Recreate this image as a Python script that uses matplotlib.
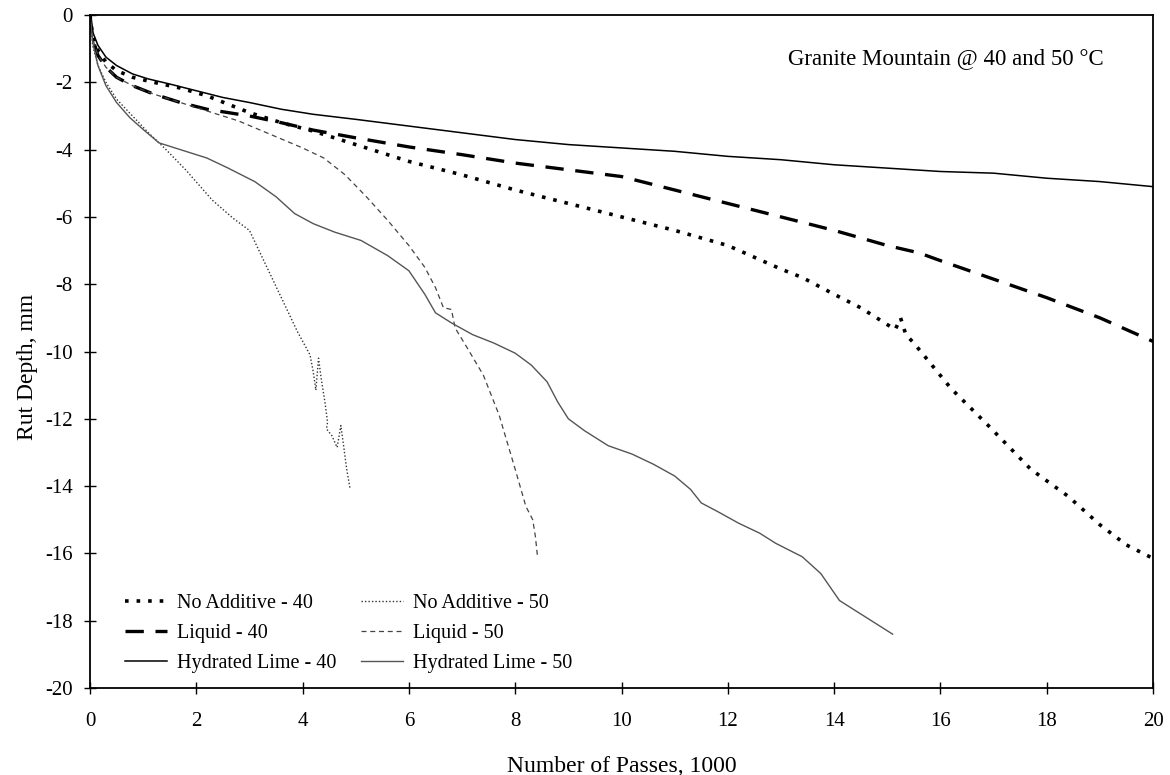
import matplotlib.pyplot as plt

plt.rcParams.update({
    "font.family": "serif",
    "font.serif": ["Liberation Serif", "DejaVu Serif"],
    "font.size": 15,
    "axes.unicode_minus": False,
})

# No Additive - 40
na40_x = [0, 0.05, 0.15, 0.3, 0.5, 0.8, 1.2, 1.7, 2.2, 3.0, 3.6, 4.2, 5, 6, 7, 8, 9, 10, 11, 12, 13,
          13.4, 14, 14.5, 15.0, 15.15, 15.25, 15.35, 15.5, 16.2, 16.9, 17.7, 18.4, 19, 19.5, 20]
na40_y = [0, -0.6, -1.05, -1.4, -1.65, -1.85, -2.0, -2.17, -2.4, -2.9, -3.2, -3.45, -3.85, -4.35, -4.75,
          -5.2, -5.6, -6.0, -6.4, -6.85, -7.55, -7.8, -8.3, -8.7, -9.2, -9.35, -9.0, -9.5, -9.75, -11.1,
          -12.2, -13.5, -14.3, -15.15, -15.75, -16.15]

# Liquid - 40
lq40_x = [0, 0.05, 0.15, 0.3, 0.5, 0.8, 1.2, 1.7, 2.2, 3, 3.6, 4.2, 5, 6, 7, 8, 9, 10, 11, 12, 13, 14,
          15, 15.6, 16, 17, 18, 19, 20]
lq40_y = [0, -0.7, -1.2, -1.55, -1.85, -2.1, -2.35, -2.6, -2.8, -3.0, -3.2, -3.42, -3.65, -3.92, -4.15,
          -4.4, -4.6, -4.8, -5.2, -5.6, -6.0, -6.4, -6.85, -7.07, -7.3, -7.85, -8.4, -9.0, -9.7]

# Hydrated Lime - 40
hl40_x = [0, 0.05, 0.15, 0.3, 0.5, 0.8, 1.1, 1.5, 2, 2.5, 3, 3.6, 4.2, 5, 6, 7, 8, 9, 10, 11, 12, 13,
          14, 15, 16, 17, 18, 19, 20]
hl40_y = [0, -0.5, -0.9, -1.25, -1.5, -1.75, -1.9, -2.05, -2.25, -2.45, -2.6, -2.8, -2.95, -3.1, -3.3,
          -3.5, -3.7, -3.85, -3.95, -4.05, -4.2, -4.3, -4.45, -4.55, -4.65, -4.7, -4.85, -4.95, -5.1]

# No Additive - 50
na50_x = [0, 0.05, 0.15, 0.3, 0.5, 0.8, 1.1, 1.4, 1.8, 2.3, 2.7, 3.0, 3.3, 3.6, 3.9, 4.14, 4.2, 4.25,
          4.3, 4.35, 4.42, 4.47, 4.45, 4.55, 4.65, 4.72, 4.78, 4.83, 4.89]
na50_y = [0, -0.9, -1.5, -2.0, -2.5, -3.0, -3.5, -3.95, -4.6, -5.5, -6.05, -6.4, -7.4, -8.4, -9.4,
          -10.1, -10.6, -11.15, -10.2, -10.8, -11.5, -12.1, -12.3, -12.5, -12.85, -12.2, -12.9, -13.5,
          -14.05]

# Liquid - 50
lq50_x = [0, 0.05, 0.15, 0.3, 0.5, 0.8, 1.2, 1.7, 2.2, 2.8, 3.4, 4.0, 4.4, 4.8, 5.2, 5.6, 6.0, 6.3,
          6.5, 6.65, 6.8, 6.87, 7.1, 7.4, 7.7, 8.0, 8.2, 8.33, 8.38, 8.42]
lq50_y = [0, -0.7, -1.2, -1.55, -1.85, -2.1, -2.35, -2.6, -2.85, -3.15, -3.55, -3.95, -4.25, -4.75,
          -5.4, -6.1, -6.85, -7.5, -8.1, -8.7, -8.75, -9.3, -9.9, -10.7, -11.9, -13.5, -14.6, -15.0,
          -15.5, -16.1]

# Hydrated Lime - 50
hl50_x = [0, 0.05, 0.15, 0.3, 0.5, 0.75, 1.0, 1.3, 1.7, 2.2, 2.6, 3.1, 3.5, 3.85, 4.2, 4.6, 5.1, 5.6,
          6.0, 6.3, 6.5, 6.8, 7.2, 7.6, 8.0, 8.3, 8.6, 8.8, 9.0, 9.3, 9.75, 10.2, 10.6, 11.0, 11.3,
          11.5, 11.8, 12.2, 12.6, 12.9, 13.4, 13.75, 14.1, 14.6, 15.1]
hl50_y = [0, -0.8, -1.5, -2.1, -2.6, -3.05, -3.4, -3.8, -4.0, -4.25, -4.55, -4.95, -5.4, -5.9, -6.2,
          -6.45, -6.7, -7.15, -7.6, -8.3, -8.85, -9.15, -9.5, -9.75, -10.05, -10.4, -10.9, -11.5, -12.0,
          -12.35, -12.8, -13.05, -13.35, -13.7, -14.1, -14.5, -14.75, -15.1, -15.4, -15.7, -16.1, -16.6,
          -17.4, -17.9, -18.4]

fig = plt.figure(figsize=(11.7, 7.75), dpi=100)
ax = fig.add_axes([0.0769, 0.1123, 0.9086, 0.8683])

ax.plot(na40_x, na40_y, color="black", linewidth=2.6, linestyle=(0, (1, 2.2)), label="No Additive - 40")
ax.plot(lq40_x, lq40_y, color="black", linewidth=2.4, linestyle=(0, (5.5, 3.5)), label="Liquid - 40")
ax.plot(hl40_x, hl40_y, color="black", linewidth=1.1, label="Hydrated Lime - 40")
ax.plot(na50_x, na50_y, color="#333333", linewidth=1.0, linestyle=(0, (1, 1.5)), label="No Additive - 50")
ax.plot(lq50_x, lq50_y, color="#444444", linewidth=0.9, linestyle=(0, (4, 3)), label="Liquid - 50")
ax.plot(hl50_x, hl50_y, color="#555555", linewidth=1.0, label="Hydrated Lime - 50")

ax.set_xlim(0, 20)
ax.set_ylim(-20, 0)
ax.set_xticks(range(0, 21, 2))
ax.set_yticks(range(-20, 1, 2))
ax.tick_params(direction="inout", length=9, width=1, labelsize=15)
ax.tick_params(axis="x", pad=13)
ax.tick_params(axis="y", pad=8)
for s in ax.spines.values():
    s.set_linewidth(1.3)

ax.set_xlabel("Number of Passes, 1000", fontsize=17, labelpad=18)
ax.set_ylabel("Rut Depth, mm", fontsize=17)
ax.yaxis.set_label_coords(-0.049, 0.477)

ax.text(13.13, -1.28, "Granite Mountain @ 40 and 50 \u00b0C", fontsize=16.5, va="center", ha="left")

ax.legend(loc="lower left", bbox_to_anchor=(0.016, -0.005), ncol=2, frameon=False, fontsize=14.5,
          handlelength=2.1, handletextpad=0.5, columnspacing=1.2, labelspacing=0.55)

fig.savefig("out.png", dpi=100)
